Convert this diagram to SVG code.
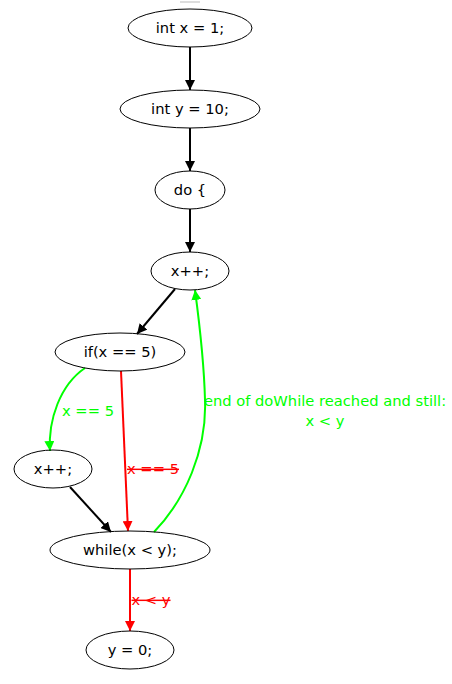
<svg xmlns="http://www.w3.org/2000/svg" width="452" height="684" viewBox="0 0 452 684">
<style>
.n ellipse{fill:none;stroke:#000;stroke-width:1}
text{font-family:"DejaVu Sans",sans-serif;font-size:14.7px;text-anchor:middle}
.e{fill:none;stroke-width:2}
.k{stroke:#000}.g{stroke:#00ff00}.r{stroke:#ff0000}
.gt{fill:#00ff00}.rt{fill:#ff0000;text-decoration:line-through}
</style>
<defs>
<marker id="ak" viewBox="0 0 10 10" refX="10" refY="5" markerWidth="5" markerHeight="5" orient="auto" markerUnits="strokeWidth"><path d="M0,0L10,5L0,10z" fill="#000"/></marker>
<marker id="ag" viewBox="0 0 10 10" refX="10" refY="5" markerWidth="5" markerHeight="5" orient="auto" markerUnits="strokeWidth"><path d="M0,0L10,5L0,10z" fill="#00ff00"/></marker>
<marker id="ar" viewBox="0 0 10 10" refX="10" refY="5" markerWidth="5" markerHeight="5" orient="auto" markerUnits="strokeWidth"><path d="M0,0L10,5L0,10z" fill="#ff0000"/></marker>
</defs>
<rect width="452" height="684" fill="#fff"/>
<line x1="180" y1="2" x2="200" y2="2" stroke="#bbb" stroke-width="1"/>
<g id="connectors">
<path class="e k" d="M190,47L190,90" marker-end="url(#ak)"/>
<path class="e k" d="M190,128L190,171" marker-end="url(#ak)"/>
<path class="e k" d="M190,209L190,252" marker-end="url(#ak)"/>
<path class="e k" d="M175,289L137,334" marker-end="url(#ak)"/>
<path class="e g" d="M85,368C60,385 48,420 50,451" marker-end="url(#ag)"/>
<text class="gt" x="88" y="416">x == 5</text>
<path class="e r" d="M121,371L128,531" marker-end="url(#ar)"/>
<text class="rt" x="153" y="474">x == 5</text>
<path class="e k" d="M70,487L111,532" marker-end="url(#ak)"/>
<path class="e g" d="M154,532C185,500 207,450 205,400C204,360 199,320 195,290" marker-end="url(#ag)"/>
<text class="gt" x="325" y="406">end of doWhile reached and still:</text>
<text class="gt" x="325" y="426">x &lt; y</text>
<path class="e r" d="M130,569L130,631" marker-end="url(#ar)"/>
<text class="rt" x="151" y="605">x &lt; y</text>
</g>
<g id="n1" class="n"><ellipse cx="190" cy="28" rx="62" ry="19"/><text x="190" y="33">int x = 1;</text></g>
<g id="n2" class="n"><ellipse cx="190" cy="109" rx="70" ry="19"/><text x="190" y="114">int y = 10;</text></g>
<g id="n3" class="n"><ellipse cx="190" cy="190" rx="35" ry="19"/><text x="190" y="195">do {</text></g>
<g id="n4" class="n"><ellipse cx="190" cy="271" rx="39" ry="19"/><text x="190" y="276">x++;</text></g>
<g id="n5" class="n"><ellipse cx="120" cy="352" rx="65" ry="19"/><text x="120" y="357">if(x == 5)</text></g>
<g id="n6" class="n"><ellipse cx="53" cy="469" rx="39" ry="19"/><text x="53" y="474">x++;</text></g>
<g id="n7" class="n"><ellipse cx="130" cy="550" rx="80" ry="19"/><text x="130" y="555">while(x &lt; y);</text></g>
<g id="n8" class="n"><ellipse cx="130" cy="650" rx="44" ry="19"/><text x="130" y="655">y = 0;</text></g>
</svg>
